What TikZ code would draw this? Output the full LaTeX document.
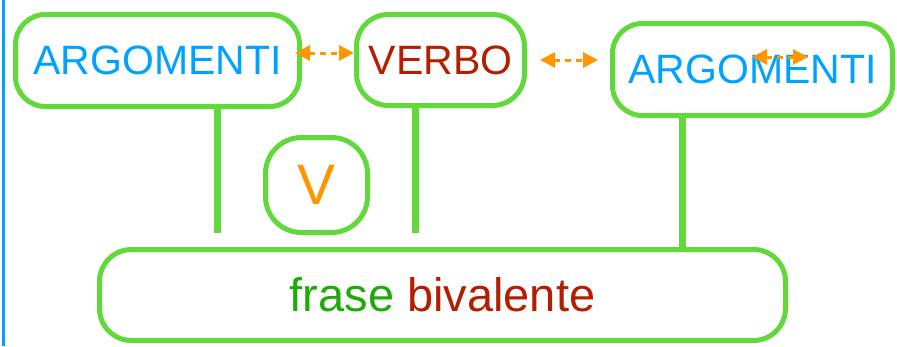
\documentclass[tikz,border=0pt]{standalone}
\usepackage{fontspec}
\setmainfont{Liberation Sans}
\usepackage{tikz}
\usetikzlibrary{positioning, calc, arrows.meta}

\definecolor{boxgreen}{RGB}{98,217,58}
\definecolor{argblue}{RGB}{0,162,255}
\definecolor{verbred}{RGB}{180,30,0}
\definecolor{linkorange}{RGB}{255,150,0}
\definecolor{frasegreen}{RGB}{30,170,10}

\tikzset{
every picture/.style={
line width=1pt
},
pill/.style={draw=boxgreen, line width=5pt, rounded corners=30pt, inner sep=0pt},
stem/.style={draw=boxgreen, line width=7pt},
link/.style={draw=linkorange, line width=3pt, dash pattern=on 6pt off 5pt,
  {Triangle[length=15pt, width=15pt]}-{Triangle[length=15pt, width=15pt]}}
}
\newcommand{\bigtext}{\fontsize{41}{48}\selectfont}

\begin{document}
\begin{tikzpicture}[x=1pt, y=-1pt]
  \useasboundingbox (0,0) rectangle (897,346);
  \draw [line width=3pt, argblue] (3.5,0) -- (3.5,346);

  \node [pill, minimum width=284pt, minimum height=92pt, text=argblue] (arg1) at (157.5,60.5) {\bigtext ARGOMENTI};
  \node [pill, minimum width=168pt, minimum height=91pt, rounded corners=32pt, text=verbred] (verbo) at (440.5,60) {\bigtext VERBO};
  \node [pill, minimum width=280pt, minimum height=92pt, text=argblue] (arg2) at (752.5,69.5) {\bigtext ARGOMENTI};
  \node [pill, minimum width=102pt, minimum height=95pt, rounded corners=36pt, text=linkorange] (v) at (316.5,185) {\fontsize{57}{60}\selectfont V};
  \node [pill, minimum width=686pt, minimum height=91pt, rounded corners=32pt] (frase) at (442.5,295)
    {\fontsize{47}{54}\selectfont\textcolor{frasegreen}{frase} \textcolor{verbred}{bivalente}};

  % stems down to the sentence
  \coordinate (end1) at (217,233);
  \coordinate (end2) at (415,233);
  \draw [stem] (arg1.south -| end1) ++(0,-4) -- (end1);
  \draw [stem] (verbo.south -| end2) ++(0,-4) -- (end2);
  \draw [stem] (arg2.south -| 682,0) -- (frase.north -| 682,0);

  \draw [link, shorten <=-7pt] ([yshift=7pt]verbo.west -| arg1.east) -- ([yshift=7pt]verbo.west);
  \draw [link, shorten <=13pt, shorten >=12pt] (verbo.east) -- (verbo.east -| arg2.west);
  \coordinate (a3l) at (752,57);
  \coordinate (a3r) at (808,57);
  \draw [link] (a3l) -- (a3r);
\end{tikzpicture}
\end{document}
